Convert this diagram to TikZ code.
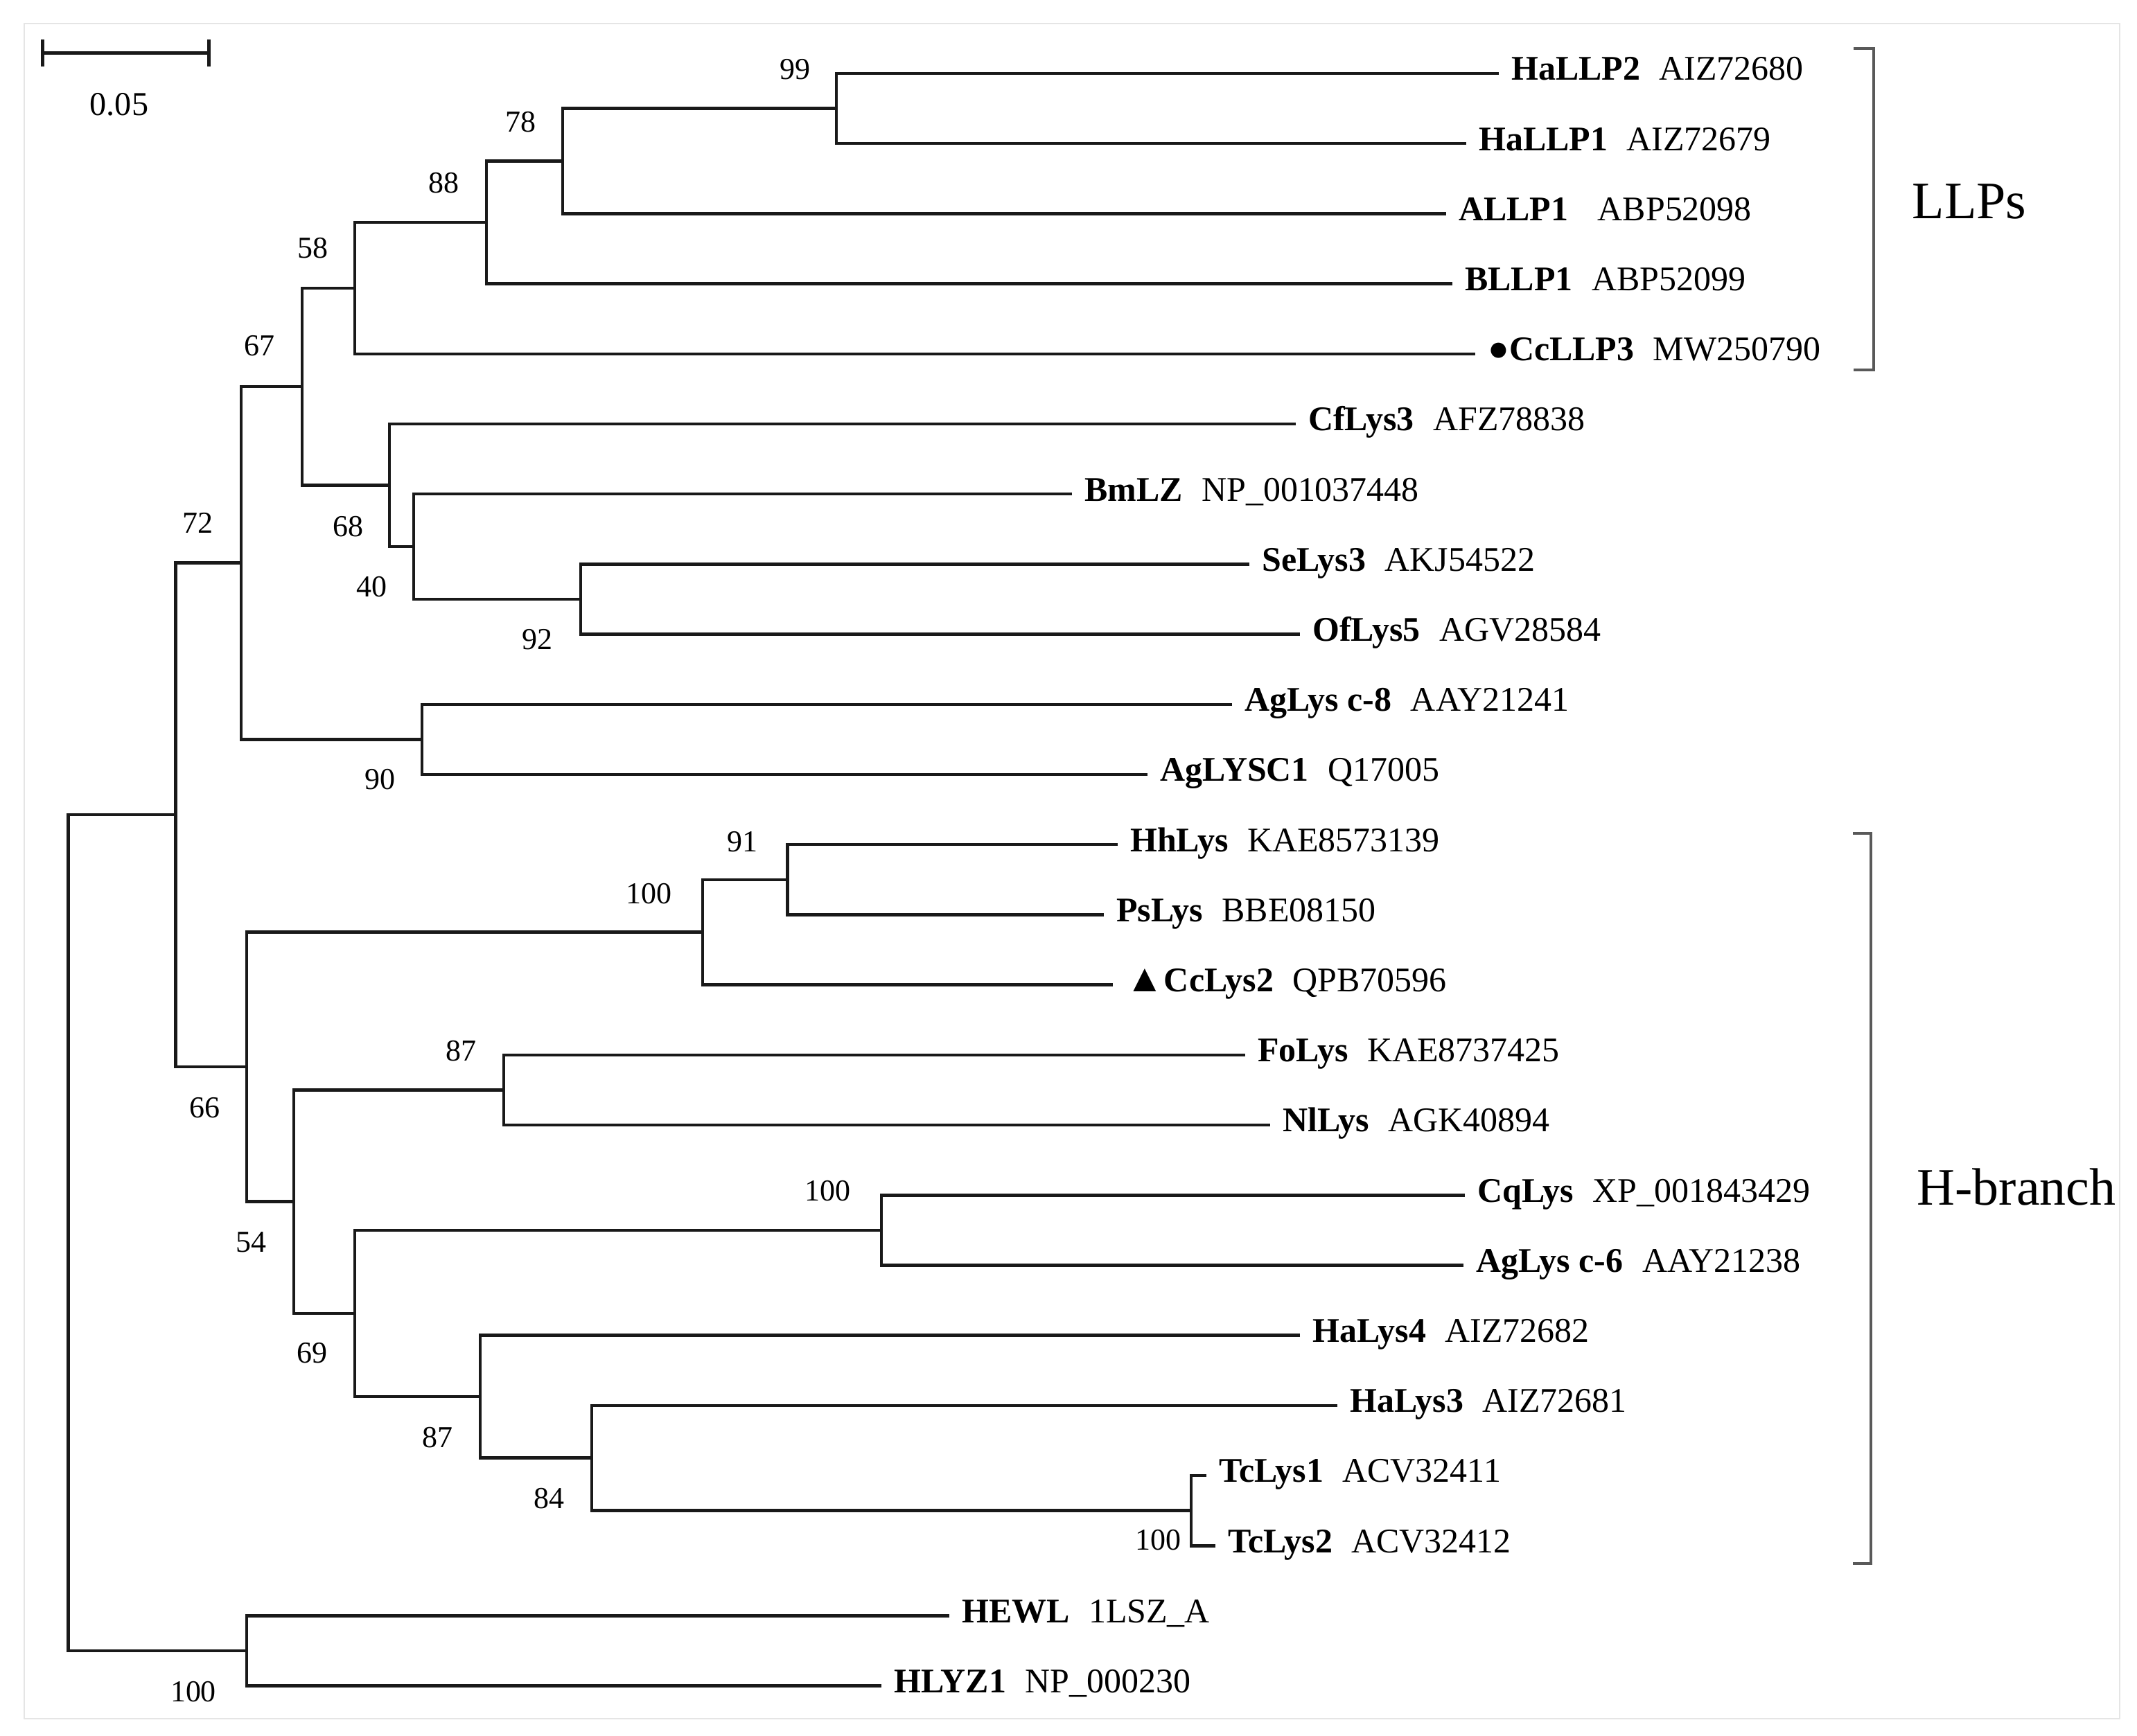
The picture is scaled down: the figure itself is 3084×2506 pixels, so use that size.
\documentclass[tikz,border=0pt]{standalone}
\usepackage{fontspec}
\setmainfont{Liberation Serif}
\usetikzlibrary{arrows.meta}

\begin{document}
\begin{tikzpicture}[x=0.01cm, y=-0.01cm,
	branch/.style={line width=1.3pt, black!90},
	leaf/.style={anchor=west, inner xsep=5pt, inner ysep=0pt, text height=10.6pt, text depth=5pt, font=\fontsize{14.2}{17}\selectfont},
	boot/.style={inner sep=0pt, font=\fontsize{12.5}{15}\selectfont},
	clade/.style={inner sep=0pt, font=\fontsize{21.6}{26}\selectfont},
	bracket/.style={line width=0.9pt, black!65}]
	\useasboundingbox (0,0) rectangle (3084,2506);
	\draw[black!10, line width=0.6pt] (35,34) rectangle (3059,2481);
	
	% scale bar
	\coordinate (sbl) at (59,76.5);
	\coordinate (sbr) at (304,76.5);
	\draw [branch, {Bar[width=0.38cm]}-{Bar[width=0.38cm]}] (sbl) -- (sbr);
	\node [boot, font=\fontsize{13.7}{16}\selectfont] (scale) at (172,151) {0.05};
	
	% leaves
	\node [leaf] (HaLLP2) at (2163,106) {\textbf{HaLLP2}\hspace{0.55em}AIZ72680};
	\node [leaf] (HaLLP1) at (2116,207.2) {\textbf{HaLLP1}\hspace{0.55em}AIZ72679};
	\node [leaf] (ALLP1) at (2087,308.4) {\textbf{ALLP1}\hspace{0.85em}ABP52098};
	\node [leaf] (BLLP1) at (2096,409.6) {\textbf{BLLP1}\hspace{0.55em}ABP52099};
	\node [leaf] (CcLLP3) at (2129,510.8) {{\fontsize{14.5}{17}\selectfont ●}\textbf{CcLLP3}\hspace{0.55em}MW250790};
	\node [leaf] (CfLys3) at (1870,612) {\textbf{CfLys3}\hspace{0.55em}AFZ78838};
	\node [leaf] (BmLZ) at (1547,713.2) {\textbf{BmLZ}\hspace{0.55em}NP\_001037448};
	\node [leaf] (SeLys3) at (1803,814.4) {\textbf{SeLys3}\hspace{0.55em}AKJ54522};
	\node [leaf] (OfLys5) at (1876,915.6) {\textbf{OfLys5}\hspace{0.55em}AGV28584};
	\node [leaf] (AgLysc8) at (1778,1016.8) {\textbf{AgLys c-8}\hspace{0.55em}AAY21241};
	\node [leaf] (AgLYSC1) at (1656,1118) {\textbf{AgLYSC1}\hspace{0.55em}Q17005};
	\node [leaf] (HhLys) at (1613,1219.2) {\textbf{HhLys}\hspace{0.55em}KAE8573139};
	\node [leaf] (PsLys) at (1593,1320.4) {\textbf{PsLys}\hspace{0.55em}BBE08150};
	\node [leaf] (CcLys2) at (1606,1421.6) {{\fontsize{16}{17}\selectfont ▲}\textbf{CcLys2}\hspace{0.55em}QPB70596};
	\node [leaf] (FoLys) at (1797,1522.8) {\textbf{FoLys}\hspace{0.55em}KAE8737425};
	\node [leaf] (NlLys) at (1833,1624) {\textbf{NlLys}\hspace{0.55em}AGK40894};
	\node [leaf] (CqLys) at (2114,1725.2) {\textbf{CqLys}\hspace{0.55em}XP\_001843429};
	\node [leaf] (AgLysc6) at (2112,1826.4) {\textbf{AgLys c-6}\hspace{0.55em}AAY21238};
	\node [leaf] (HaLys4) at (1876,1927.6) {\textbf{HaLys4}\hspace{0.55em}AIZ72682};
	\node [leaf] (HaLys3) at (1930,2028.8) {\textbf{HaLys3}\hspace{0.55em}AIZ72681};
	\node [leaf] (TcLys1) at (1741,2130) {\textbf{TcLys1}\hspace{0.55em}ACV32411};
	\node [leaf] (TcLys2) at (1754,2231.2) {\textbf{TcLys2}\hspace{0.55em}ACV32412};
	\node [leaf] (HEWL) at (1370,2332.4) {\textbf{HEWL}\hspace{0.55em}1LSZ\_A};
	\node [leaf] (HLYZ1) at (1272,2433.6) {\textbf{HLYZ1}\hspace{0.55em}NP\_000230};
	
	% inner nodes
	\coordinate (n99) at (1207,156.6);
	\coordinate (n78) at (812,232.5);
	\coordinate (n88) at (702,321);
	\coordinate (n58) at (512,416);
	\coordinate (n92) at (838,865);
	\coordinate (n40) at (597,789);
	\coordinate (n68) at (562,700.5);
	\coordinate (n67) at (436,558);
	\coordinate (n90) at (609,1067.4);
	\coordinate (n72) at (348,812.7);
	\coordinate (n91) at (1136.5,1269.8);
	\coordinate (n100a) at (1014,1345.7);
	\coordinate (n87a) at (727,1573.4);
	\coordinate (n100b) at (1272,1775.8);
	\coordinate (n100c) at (1719,2180.6);
	\coordinate (n84) at (854,2104.7);
	\coordinate (n87b) at (693,2016);
	\coordinate (n69) at (512,1896);
	\coordinate (n54) at (424,1734.7);
	\coordinate (n66) at (356,1540);
	\coordinate (nin) at (253.5,1176);
	\coordinate (n100d) at (356,2383);
	\coordinate (root) at (98.5,1779.5);
	
	% branches
	\draw [branch] (HaLLP2.west) -| (n99) |- (HaLLP1.west);
	\draw [branch] (n99) -| (n78) |- (ALLP1.west);
	\draw [branch] (n78) -| (n88) |- (BLLP1.west);
	\draw [branch] (n88) -| (n58) |- (CcLLP3.west);
	\draw [branch] (SeLys3.west) -| (n92) |- (OfLys5.west);
	\draw [branch] (BmLZ.west) -| (n40) |- (n92);
	\draw [branch] (CfLys3.west) -| (n68) |- (n40);
	\draw [branch] (n58) -| (n67) |- (n68);
	\draw [branch] (AgLysc8.west) -| (n90) |- (AgLYSC1.west);
	\draw [branch] (n67) -| (n72) |- (n90);
	\draw [branch] (HhLys.west) -| (n91) |- (PsLys.west);
	\draw [branch] (n91) -| (n100a) |- (CcLys2.west);
	\draw [branch] (FoLys.west) -| (n87a) |- (NlLys.west);
	\draw [branch] (CqLys.west) -| (n100b) |- (AgLysc6.west);
	\draw [branch] (TcLys1.west) -| (n100c) |- (TcLys2.west);
	\draw [branch] (HaLys3.west) -| (n84) |- (n100c);
	\draw [branch] (HaLys4.west) -| (n87b) |- (n84);
	\draw [branch] (n100b) -| (n69) |- (n87b);
	\draw [branch] (n87a) -| (n54) |- (n69);
	\draw [branch] (n100a) -| (n66) |- (n54);
	\draw [branch] (n72) -| (nin) |- (n66);
	\draw [branch] (HEWL.west) -| (n100d) |- (HLYZ1.west);
	\draw [branch] (nin) -| (root) |- (n100d);
	
	% bootstrap values
	\node [boot] (b99) at (1147,100) {99};
	\node [boot] (b78) at (751,176) {78};
	\node [boot] (b88) at (640,264) {88};
	\node [boot] (b58) at (451,358) {58};
	\node [boot] (b67) at (374,499) {67};
	\node [boot] (b72) at (285,755) {72};
	\node [boot] (b68) at (502,760) {68};
	\node [boot] (b40) at (536,847) {40};
	\node [boot] (b92) at (775,923) {92};
	\node [boot] (b90) at (548,1125) {90};
	\node [boot] (b91) at (1071,1215) {91};
	\node [boot] (b100a) at (936,1290) {100};
	\node [boot] (b66) at (295,1599) {66};
	\node [boot] (b87a) at (665,1517) {87};
	\node [boot] (b54) at (362,1793) {54};
	\node [boot] (b100b) at (1194,1719) {100};
	\node [boot] (b69) at (450,1953) {69};
	\node [boot] (b87b) at (631,2075) {87};
	\node [boot] (b84) at (792,2163) {84};
	\node [boot] (b100c) at (1671,2223) {100};
	\node [boot] (b100d) at (279,2442) {100};
	
	% clades
	\coordinate (llpt) at (2704,70);
	\coordinate (llpb) at (2704,534);
	\draw [bracket] ([xshift=-0.29cm]llpt) -- (llpt) -- (llpb) -- ([xshift=-0.29cm]llpb);
	\node [clade] (LLPs) at (2842,291) {LLPs};
	\coordinate (hbrt) at (2700,1203);
	\coordinate (hbrb) at (2700,2257);
	\draw [bracket] ([xshift=-0.26cm]hbrt) -- (hbrt) -- (hbrb) -- ([xshift=-0.26cm]hbrb);
	\node [clade] (Hbranch) at (2910,1714) {H-branch};
\end{tikzpicture}
\end{document}
